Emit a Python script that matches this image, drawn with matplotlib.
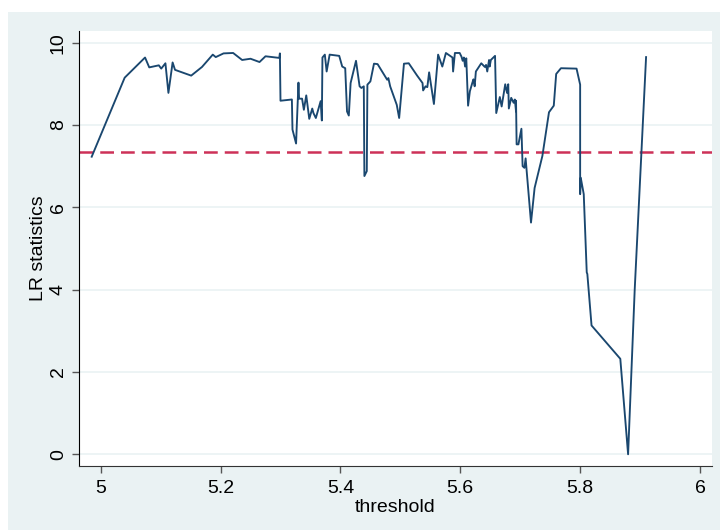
import matplotlib
matplotlib.use("Agg")
import matplotlib.pyplot as plt
from matplotlib.patches import Rectangle

# LR statistic over the threshold grid
threshold = [
    4.985, 5.040, 5.074, 5.081, 5.097, 5.101, 5.108, 5.113, 5.120, 5.124,
    5.151, 5.169, 5.187, 5.192, 5.205, 5.221, 5.236, 5.250, 5.265, 5.275,
    5.298, 5.299, 5.300, 5.319, 5.320, 5.326, 5.330, 5.331, 5.336, 5.339,
    5.343, 5.348, 5.353, 5.355, 5.359, 5.367, 5.369, 5.370, 5.374, 5.377,
    5.382, 5.398, 5.403, 5.408, 5.411, 5.414, 5.417, 5.426, 5.432, 5.435,
    5.439, 5.440, 5.444, 5.445, 5.450, 5.456, 5.462, 5.478, 5.480, 5.483,
    5.494, 5.498, 5.506, 5.514, 5.528, 5.537, 5.538, 5.542, 5.545, 5.548,
    5.556, 5.563, 5.570, 5.576, 5.587, 5.588, 5.591, 5.599, 5.602, 5.604,
    5.606, 5.608, 5.610, 5.613, 5.616, 5.620, 5.622, 5.624, 5.626, 5.635,
    5.641, 5.643, 5.645, 5.648, 5.649, 5.651, 5.658, 5.660, 5.666, 5.669,
    5.675, 5.678, 5.680, 5.681, 5.685, 5.689, 5.691, 5.693, 5.693, 5.694,
    5.697, 5.702, 5.704, 5.707, 5.709, 5.718, 5.724, 5.737, 5.748, 5.756,
    5.760, 5.768, 5.794, 5.800, 5.800, 5.801, 5.806, 5.811, 5.812, 5.819,
    5.867, 5.880, 5.891, 5.910,
]
lr_stat = [
    7.23, 9.15, 9.64, 9.40, 9.45, 9.37, 9.50, 8.78, 9.52, 9.34,
    9.20, 9.41, 9.71, 9.65, 9.74, 9.75, 9.58, 9.61, 9.53, 9.67,
    9.63, 9.74, 8.59, 8.62, 7.89, 7.55, 9.03, 8.64, 8.64, 8.37,
    8.72, 8.15, 8.40, 8.29, 8.17, 8.58, 8.11, 9.64, 9.71, 9.30,
    9.71, 9.68, 9.42, 9.38, 8.33, 8.23, 9.02, 9.56, 8.94, 8.90,
    8.94, 6.76, 6.88, 8.98, 9.06, 9.49, 9.48, 9.10, 9.14, 8.94,
    8.49, 8.17, 9.49, 9.50, 9.20, 9.02, 8.84, 8.94, 8.92, 9.28,
    8.51, 9.71, 9.42, 9.75, 9.64, 9.30, 9.75, 9.75, 9.66, 9.56,
    9.64, 9.42, 9.62, 8.47, 8.82, 9.02, 9.11, 8.94, 9.30, 9.50,
    9.41, 9.46, 9.30, 9.58, 9.42, 9.58, 9.68, 8.29, 8.68, 8.45,
    8.99, 8.78, 8.99, 8.40, 8.66, 8.54, 8.62, 8.33, 8.59, 7.53,
    7.53, 7.91, 7.00, 6.96, 7.19, 5.63, 6.47, 7.25, 8.31, 8.47,
    9.24, 9.38, 9.37, 8.98, 6.32, 6.72, 6.32, 4.42, 4.38, 3.13,
    2.32, 0.00, 3.99, 9.65,
]
critical_value = 7.345

bg = "#eaf2f3"
navy = "#1a476f"
red = "#cd3158"

plt.rcParams["font.family"] = ["Liberation Sans Narrow", "Liberation Sans", "DejaVu Sans"]

fig = plt.figure(figsize=(7.2, 5.3), dpi=100, facecolor="white")
# Stata-style outer region
fig.patches.append(Rectangle((8 / 720, 0), 1, 1 - 12 / 530, transform=fig.transFigure,
                             facecolor=bg, edgecolor="none", zorder=-10))

ax = fig.add_axes([79.3 / 720, 1 - 465.7 / 530, (711.7 - 79.3) / 720, (465.7 - 31) / 530])
ax.set_facecolor("white")

ax.plot(threshold, lr_stat, color=navy, lw=1.35, zorder=3)
ax.axhline(critical_value, color=red, lw=1.8, dashes=(5.5, 2.8), zorder=2)

ax.set_xlim(4.9643, 6.0195)
ax.set_ylim(-0.277, 10.284)
ax.set_xticks([5, 5.2, 5.4, 5.6, 5.8, 6])
ax.set_xticklabels(["5", "5.2", "5.4", "5.6", "5.8", "6"])
ax.set_yticks([0, 2, 4, 6, 8, 10])
ax.grid(axis="y", color=bg, lw=1.2, zorder=0)
ax.set_axisbelow(True)

for side in ["top", "right"]:
    ax.spines[side].set_visible(False)
ax.spines["left"].set_color("black")
ax.spines["bottom"].set_color("#333333")

ax.tick_params(axis="both", length=5, width=1, color="#555555", labelsize=14, pad=4)
ax.tick_params(axis="x", pad=5)
ax.tick_params(axis="y", labelrotation=90)
for lab in ax.get_yticklabels():
    lab.set_va("center")

ax.set_xlabel("threshold", fontsize=14, labelpad=2)
ax.set_ylabel("LR statistics", fontsize=14, labelpad=2)

fig.savefig("out.png", dpi=100, facecolor="white")
